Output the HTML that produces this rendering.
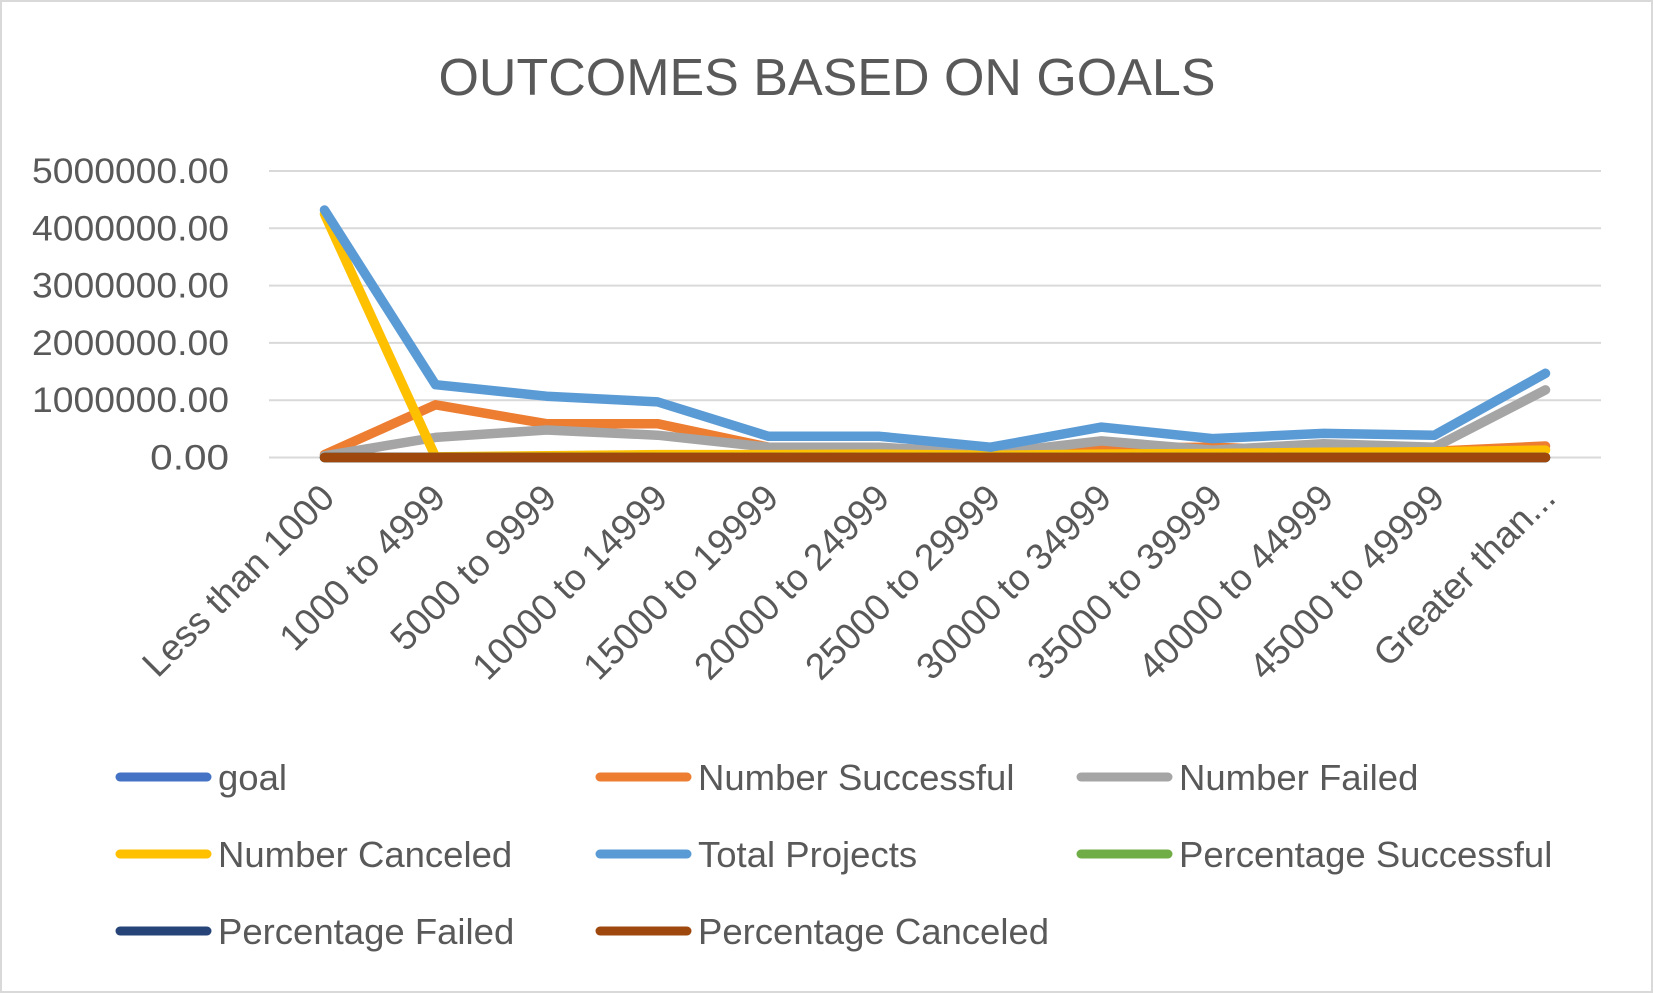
<!DOCTYPE html>
<html><head><meta charset="utf-8"><style>
html,body{margin:0;padding:0;background:#fff;}
svg{display:block;font-family:"Liberation Sans",sans-serif;}
</style></head><body>
<svg id="chart" width="1653" height="993" viewBox="0 0 1653 993">
<rect x="1" y="1" width="1651" height="991" fill="#fff" stroke="#d9d9d9" stroke-width="2"/>
<text x="827" y="95" text-anchor="middle" font-size="52" fill="#595959" textLength="777" lengthAdjust="spacingAndGlyphs">OUTCOMES BASED ON GOALS</text>
<g id="grid"></g><g id="ylabels"></g><g id="xlabels"></g><g id="lines"></g><g id="legend"></g>
</svg>
<script>
const categories=["Less than 1000","1000 to 4999","5000 to 9999","10000 to 14999","15000 to 19999","20000 to 24999","25000 to 29999","30000 to 34999","35000 to 39999","40000 to 44999","45000 to 49999","Greater than..."];
const yTicks=[0,1000000,2000000,3000000,4000000,5000000];
const goal=[0,0,0,0,0,0,0,0,0,0,0,0];
const numSuccessful=[50000,920000,590000,590000,180000,170000,90000,170000,180000,110000,110000,200000];
const numFailed=[30000,350000,480000,390000,180000,180000,70000,290000,130000,240000,180000,1180000];
const numCanceled=[4250000,10000,30000,50000,50000,60000,40000,60000,70000,90000,100000,130000];
const totalProjects=[4320000,1270000,1070000,970000,370000,370000,180000,530000,330000,420000,390000,1470000];
const pctSuccessful=[0,0,0,0,0,0,0,0,0,0,0,0];
const pctFailed=[0,0,0,0,0,0,0,0,0,0,0,0];
const pctCanceled=[0,0,0,0,0,0,0,0,0,0,0,0];
const seriesNames=["goal","Number Successful","Number Failed","Number Canceled","Total Projects","Percentage Successful","Percentage Failed","Percentage Canceled"];
const seriesColors=["#4472C4","#ED7D31","#A5A5A5","#FFC000","#5B9BD5","#70AD47","#264478","#9E480E"];
const seriesData=[goal,numSuccessful,numFailed,numCanceled,totalProjects,pctSuccessful,pctFailed,pctCanceled];

const NS="http://www.w3.org/2000/svg";
const plotL=269,plotR=1601,y0=457.5,yTop=171,yMax=5000000;
const step=(plotR-plotL)/categories.length;
function xS(i){return plotL+step*(i+0.5);}
function yS(v){return y0-(v/yMax)*(y0-yTop);}
function mk(tag,attrs,parent){const e=document.createElementNS(NS,tag);for(const k in attrs)e.setAttribute(k,attrs[k]);parent.appendChild(e);return e;}
const grid=document.getElementById('grid'),yl=document.getElementById('ylabels'),xl=document.getElementById('xlabels'),lines=document.getElementById('lines'),leg=document.getElementById('legend');
yTicks.forEach((t,i)=>{
  const y=yS(t);
  const g=mk('line',{x1:plotL,x2:plotR,y1:y,y2:y,stroke:'#d9d9d9','stroke-width':2},grid);
  
  
  const s=t.toFixed(2);
  const tx=mk('text',{x:229,y:y+12,'text-anchor':'end','font-size':35,fill:'#595959',textLength:s.length*19.7,lengthAdjust:'spacingAndGlyphs'},yl);
  tx.textContent=s;
  
  
});
categories.forEach((c,i)=>{
  const x=xS(i)+12,y=500;
  const tx=mk('text',{x:x,y:y,'text-anchor':'end','font-size':37,fill:'#595959',transform:`rotate(-45 ${x} ${y})`},xl);
  tx.textContent=c;
  
  
});
seriesData.forEach((d,s)=>{
  const pts=d.map((v,i)=>xS(i).toFixed(1)+','+yS(v).toFixed(1)).join(' ');
  const p=mk('polyline',{points:pts,fill:'none',stroke:seriesColors[s],'stroke-width':9.5,'stroke-linejoin':'round','stroke-linecap':'round'},lines);
  
  
});
const colX=[116,596,1077],rowY=[777,854,931];
seriesNames.forEach((n,i)=>{
  const cx=colX[i%3],cy=rowY[Math.floor(i/3)];
  const l=mk('line',{x1:cx+4,x2:cx+91,y1:cy,y2:cy,stroke:seriesColors[i],'stroke-width':9,'stroke-linecap':'round'},leg);
  
  
  const t=mk('text',{x:cx+102,y:cy+13,'font-size':36.5,fill:'#595959'},leg);
  t.textContent=n;
  
  
});
</script>
</body></html>
